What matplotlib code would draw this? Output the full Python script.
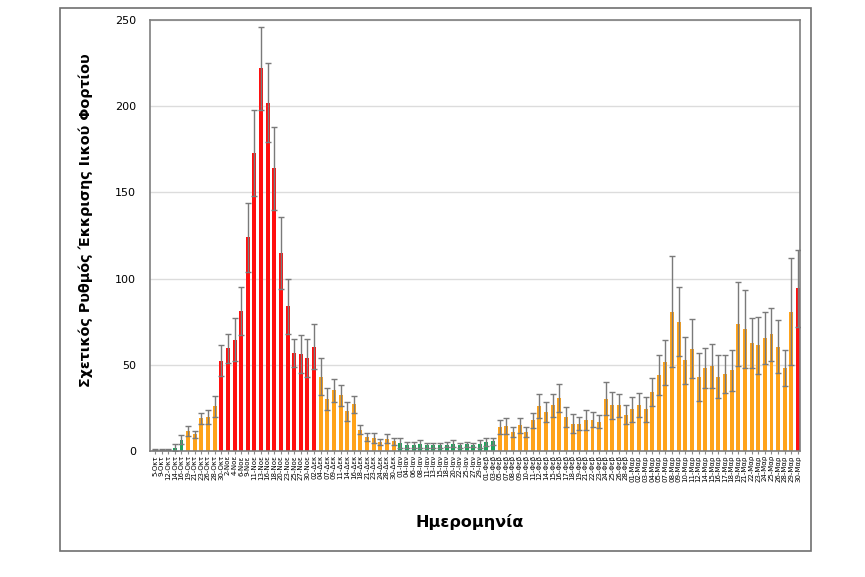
import numpy as np
import matplotlib
matplotlib.use("Agg")
import matplotlib.pyplot as plt
from matplotlib.patches import Rectangle

plt.rcParams['font.family'] = ['DejaVu Sans']

# ημερομηνίες δειγματοληψίας (Οκτ - Μαρ)
oct_days = ['5', '9', '12', '14', '16', '19', '21', '23', '26', '28', '30']
nov_days = ['2', '4', '6', '9', '11', '13', '16', '18', '20', '23', '25', '27', '30']
dec_days = ['02', '04', '07', '09', '11', '14', '16', '18', '21', '23', '24', '28', '30']
jan_days = ['01', '04', '06', '08', '11', '13', '15', '18', '20', '22', '25', '27', '29']
feb_days = ['01', '03', '05', '07', '08', '09', '10', '11', '12', '14', '15', '16',
            '17', '18', '19', '21', '22', '23', '24', '25', '26', '28']
mar_days = ['01', '02', '03', '04', '05', '07', '08', '09', '10', '11', '12', '14', '15',
            '16', '17', '18', '19', '21', '22', '23', '24', '25', '26', '28', '29', '30']

labels = ([d + '-Οκτ' for d in oct_days] + [d + '-Νοε' for d in nov_days] +
          [d + '-Δεκ' for d in dec_days] + [d + '-Ιαν' for d in jan_days] +
          [d + '-Φεβ' for d in feb_days] + [d + '-Μαρ' for d in mar_days])

# σχετικός ρυθμός και σφάλμα
values = [0.8, 0.8, 0.8, 2.0, 6.5, 11.6, 9.7, 19.0, 19.8, 26.0,
          52.3, 59.5, 64.5, 81.0, 124.0, 173.0, 222.0, 202.0, 164.0, 115.0, 84.0, 57.0, 56.0, 54.0, 60.5,
          43.2, 30.3, 35.1, 32.2, 23.0, 27.0, 12.4, 8.1, 7.7, 5.2, 7.1, 5.6,
          4.6, 3.3, 3.3, 4.2, 3.3, 3.3, 3.3, 3.7, 4.2, 3.3, 3.9, 3.5, 4.2, 5.2, 5.6,
          14.0, 14.6, 11.1, 15.0, 11.1, 17.8, 25.9, 22.7, 26.5, 30.8, 19.8, 15.9, 15.9, 17.8, 18.2,
          16.9, 30.4, 26.5, 26.5, 21.0, 24.2, 26.7, 24.2, 34.2, 44.2, 51.5, 80.9, 75.1, 52.5, 59.3,
          42.9, 48.1, 49.2, 43.2, 44.8, 46.7, 73.7, 70.8, 62.7, 61.2, 65.6, 67.6, 60.6, 48.1, 80.9,
          94.4]
errors = [0.3, 0.3, 0.3, 1.8, 2.7, 3.0, 2.0, 3.2, 4.2, 6.0,
          9.0, 8.5, 12.5, 14.0, 20.0, 25.0, 24.0, 23.0, 24.0, 21.0, 16.0, 8.0, 11.0, 11.0, 13.0,
          11.0, 6.5, 6.5, 6.0, 5.4, 5.0, 2.5, 2.3, 3.0, 2.0, 2.5, 2.0,
          2.9, 1.7, 1.7, 2.4, 1.5, 1.5, 1.5, 1.6, 2.0, 1.4, 1.4, 1.4, 2.4, 2.3, 2.1,
          4.2, 4.6, 2.9, 4.4, 2.9, 4.3, 7.0, 5.6, 6.8, 8.3, 5.8, 5.4, 3.9, 5.8, 4.5,
          3.8, 9.6, 7.8, 6.8, 5.6, 7.2, 7.1, 7.2, 8.3, 11.6, 13.0, 32.0, 20.0, 13.5, 17.0,
          13.9, 11.6, 12.6, 12.2, 11.0, 12.0, 24.2, 22.8, 14.3, 16.4, 15.3, 15.2, 15.1, 10.2, 31.0,
          22.2]
# επίπεδο: g = χαμηλό, o = μέτριο, r = υψηλό
level = ['g'] * 5 + ['o'] * 5 + ['r'] * 15 + ['o'] * 12 + ['g'] * 15 + ['o'] * 45 + ['r']

level_colors = {'g': '#1fa35c', 'o': '#ffa31a', 'r': '#ff1010'}
colors = [level_colors[c] for c in level]
x = np.arange(len(values))

fig = plt.figure(figsize=(8.65, 5.77), dpi=100)
ax = fig.add_axes([150 / 865, 1 - 451 / 577, 650 / 865, 431 / 577])

ax.bar(x, values, width=0.6, color=colors, zorder=2)
ax.errorbar(x, values, yerr=errors, fmt='none', ecolor='#7a7a7a', elinewidth=1,
            capsize=2, capthick=1, zorder=3)

ax.set_ylim(0, 250)
ax.set_xlim(-0.75, len(values) - 0.7)
ax.set_yticks([0, 50, 100, 150, 200, 250])
ax.grid(axis='y', color='#dcdcdc', linewidth=1, zorder=0)
ax.set_axisbelow(True)
ax.set_xticks(x)
ax.set_xticklabels(labels, rotation=90, fontsize=5)
ax.tick_params(axis='y', length=0, labelsize=8, pad=10)
ax.tick_params(axis='x', length=2, pad=1, color='#888888')
for s in ax.spines.values():
    s.set_color('#7f7f7f')
    s.set_linewidth(1.2)

ax.set_ylabel('Σχετικός Ρυθμός Έκκρισης Ιικού Φορτίου', fontsize=10.3, fontweight='bold')
ax.yaxis.set_label_coords(-0.088, 0.536)
fig.text(470 / 865, 1 - 522 / 577, 'Ημερομηνία', fontsize=11.5, fontweight='bold',
         ha='center', va='center')

fig.patches.append(Rectangle((60 / 865, 1 - 551 / 577), 751 / 865, 543 / 577,
                             transform=fig.transFigure, fill=False, edgecolor='#6f6f6f',
                             linewidth=1.2))

fig.savefig('out.png', dpi=100)
